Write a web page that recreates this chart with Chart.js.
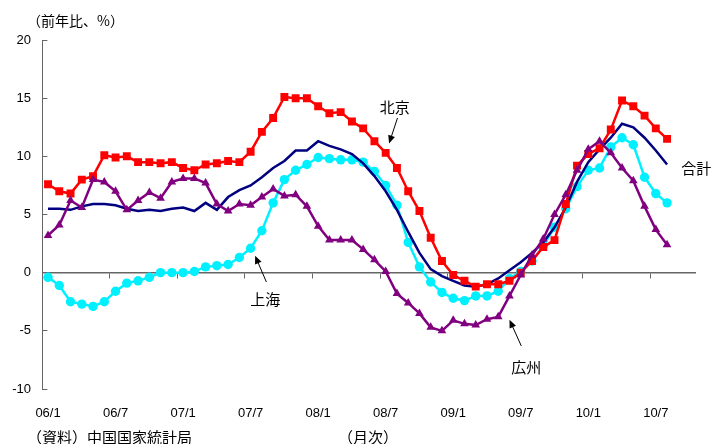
<!DOCTYPE html>
<html>
<head>
<meta charset="utf-8">
<script src="https://cdn.jsdelivr.net/npm/chart.js@4.4.1/dist/chart.umd.min.js"></script>
<style>
  html, body { margin: 0; padding: 0; background: #ffffff; }
  #wrap { width: 712px; height: 444px; position: relative; }
</style>
</head>
<body>
<div id="wrap"><canvas id="c" width="712" height="444"></canvas></div>
<script>
// Monthly categories, 2006/1 - 2010/10
const months = [
  "06/1","06/2","06/3","06/4","06/5","06/6","06/7","06/8","06/9","06/10","06/11","06/12",
  "07/1","07/2","07/3","07/4","07/5","07/6","07/7","07/8","07/9","07/10","07/11","07/12",
  "08/1","08/2","08/3","08/4","08/5","08/6","08/7","08/8","08/9","08/10","08/11","08/12",
  "09/1","09/2","09/3","09/4","09/5","09/6","09/7","09/8","09/9","09/10","09/11","09/12",
  "10/1","10/2","10/3","10/4","10/5","10/6","10/7","10/8","10/9","10/10"
];
// Labelled months on the horizontal axis
const tickMonths = ["06/1","06/7","07/1","07/7","08/1","08/7","09/1","09/7","10/1","10/7"];
const yTicks = [-10, -5, 0, 5, 10, 15, 20];

// Year-on-year change (%)
const beijing = [7.6, 7.0, 6.8, 8.0, 8.3, 10.1, 9.9, 10.0, 9.5, 9.5, 9.4, 9.5,
  9.0, 8.8, 9.3, 9.4, 9.6, 9.5, 10.4, 12.1, 13.3, 15.1, 15.0, 15.0,
  14.3, 13.7, 13.8, 13.0, 12.4, 11.3, 10.3, 9.0, 7.0, 5.3, 3.0, 1.0,
  -0.2, -0.7, -1.2, -1.0, -1.0, -0.7, 0.0, 1.0, 2.2, 2.8, 5.9, 9.2,
  10.2, 10.7, 12.3, 14.8, 14.3, 13.5, 12.4, 11.5];
const shanghai = [-0.4, -1.1, -2.5, -2.7, -2.9, -2.5, -1.6, -0.9, -0.7, -0.4, 0.0, 0.0,
  0.0, 0.1, 0.5, 0.6, 0.7, 1.3, 2.1, 3.6, 6.0, 8.0, 8.8, 9.3,
  9.9, 9.8, 9.7, 9.7, 9.5, 8.7, 7.5, 5.8, 2.6, 0.5, -0.8, -1.7,
  -2.2, -2.4, -2.0, -2.0, -1.6, -0.5, 0.1, 1.0, 2.3, 3.9, 5.5, 7.4,
  8.8, 9.0, 10.8, 11.6, 11.0, 8.2, 6.8, 6.0];
const guangzhou = [3.2, 4.1, 6.2, 5.6, 8.0, 7.8, 7.0, 5.4, 6.2, 6.9, 6.4, 7.8,
  8.1, 8.1, 7.7, 5.9, 5.3, 5.9, 5.8, 6.5, 7.2, 6.6, 6.7, 5.7,
  4.0, 2.8, 2.8, 2.8, 2.0, 1.1, 0.1, -1.8, -2.6, -3.5, -4.7, -5.0,
  -4.1, -4.4, -4.5, -4.0, -3.8, -2.0, -0.2, 1.5, 2.9, 5.0, 6.7, 8.8,
  10.6, 11.3, 10.3, 9.0, 7.9, 5.7, 3.7, 2.4];
const total = [5.5, 5.5, 5.4, 5.7, 5.9, 5.9, 5.8, 5.5, 5.3, 5.4, 5.3, 5.5,
  5.6, 5.3, 6.0, 5.4, 6.5, 7.1, 7.5, 8.2, 9.0, 9.6, 10.5, 10.5,
  11.3, 10.9, 10.6, 10.2, 9.4, 8.3, 7.0, 5.4, 3.5, 1.7, 0.3, -0.3,
  -0.7, -1.1, -1.2, -1.0, -0.5, 0.2, 0.9, 1.7, 2.6, 3.9, 5.6, 7.8,
  9.5, 10.6, 11.6, 12.8, 12.5, 11.6, 10.5, 9.3];

const AXIS_GRAY = '#666666';
const JP_FONT = '"Noto Sans CJK JP", "Noto Sans", sans-serif';
const NUM_FONT = '"Liberation Sans", Arial, sans-serif';

// Callout labels and pointer arrows, positioned in data space (category index, %)
const callouts = [
  { text: '北京', at: [30.8, 14.2], from: [31.05, 13.3], to: [30.3, 11.1] },
  { text: '上海', at: [19.3, -2.25], from: [19.4, -0.8], to: [18.4, 1.45] },
  { text: '広州', at: [42.5, -8.1], from: [42.05, -6.3], to: [41.0, -4.05] },
  { text: '合計', at: [57.6, 9.0] }
];

function drawArrow(ctx, x1, y1, x2, y2) {
  const ang = Math.atan2(y2 - y1, x2 - x1);
  const head = 8, half = 3.5;
  ctx.beginPath();
  ctx.moveTo(x1, y1);
  ctx.lineTo(x2 - Math.cos(ang) * head * 0.8, y2 - Math.sin(ang) * head * 0.8);
  ctx.stroke();
  ctx.beginPath();
  ctx.moveTo(x2, y2);
  ctx.lineTo(x2 - Math.cos(ang) * head - Math.sin(ang) * half, y2 - Math.sin(ang) * head + Math.cos(ang) * half);
  ctx.lineTo(x2 - Math.cos(ang) * head + Math.sin(ang) * half, y2 - Math.sin(ang) * head - Math.cos(ang) * half);
  ctx.closePath();
  ctx.fill();
}

const annotations = {
  id: 'annotations',
  afterDraw(chart) {
    const ctx = chart.ctx;
    const xs = chart.scales.x, ys = chart.scales.y;
    ctx.save();
    ctx.fillStyle = '#000';
    ctx.strokeStyle = '#000';
    ctx.lineWidth = 1;
    ctx.textAlign = 'center';
    ctx.textBaseline = 'middle';
    ctx.font = '15px ' + JP_FONT;
    callouts.forEach(c => {
      ctx.fillText(c.text, xs.getPixelForValue(c.at[0]), ys.getPixelForValue(c.at[1]));
      if (c.from) {
        drawArrow(ctx,
          xs.getPixelForValue(c.from[0]), ys.getPixelForValue(c.from[1]),
          xs.getPixelForValue(c.to[0]), ys.getPixelForValue(c.to[1]));
      }
    });
    // unit, source and period captions
    ctx.font = '14px ' + JP_FONT;
    ctx.textAlign = 'left';
    ctx.fillText('（前年比、%）', 27, 21);
    ctx.font = '15px ' + JP_FONT;
    ctx.fillText('（資料）中国国家統計局', 27, 437);
    ctx.fillText('（月次）', 338, 437);
    ctx.restore();
  }
};

const lineSet = (label, data, color, style, radius, order) => ({
  label, data,
  borderColor: color, backgroundColor: color,
  borderWidth: 2.5,
  pointStyle: style, pointRadius: radius, pointHoverRadius: radius,
  pointBorderWidth: 0,
  tension: 0, order
});

new Chart(document.getElementById('c'), {
  type: 'line',
  data: {
    labels: months,
    datasets: [
      lineSet('広州', guangzhou, '#800080', 'triangle', 5, 1),
      lineSet('北京', beijing, '#FF0000', 'rect', 5.6, 2),
      lineSet('合計', total, '#000080', false, 0, 3),
      lineSet('上海', shanghai, '#00F0FF', 'circle', 4.7, 4)
    ]
  },
  options: {
    responsive: false,
    devicePixelRatio: 1,
    animation: false,
    events: [],
    layout: { padding: { left: 0, right: 16.8, top: 40, bottom: 0 } },
    plugins: { legend: { display: false }, tooltip: { enabled: false } },
    scales: {
      x: {
        type: 'category',
        offset: true,
        grid: { display: false },
        border: { display: false },
        ticks: {
          autoSkip: false, maxRotation: 0, minRotation: 0,
          padding: 9, color: '#000',
          font: { family: NUM_FONT, size: 13 },
          callback: (v, i) => tickMonths.includes(months[i]) ? months[i] : ''
        },
        afterFit: s => { s.height = 444 - 389; }
      },
      zeroAxis: {
        type: 'category',
        axis: 'x',
        labels: months,
        position: { y: 0 },
        offset: true,
        grid: {
          offset: true, drawOnChartArea: false, drawTicks: true, tickLength: 5,
          lineWidth: 1,
          color: c => (c.index > 0 && c.index < months.length && c.index % 6 === 0) ? AXIS_GRAY : 'rgba(0,0,0,0)'
        },
        border: { display: true, color: AXIS_GRAY, width: 1.5 },
        ticks: { display: false, autoSkip: false }
      },
      y: {
        min: yTicks[0], max: yTicks[yTicks.length - 1],
        afterBuildTicks: s => { s.ticks = yTicks.map(v => ({ value: v })); },
        grid: { drawOnChartArea: false, drawTicks: true, tickLength: -5, color: AXIS_GRAY },
        border: { display: true, color: AXIS_GRAY, width: 1 },
        ticks: { padding: 16.4, color: '#000', font: { family: NUM_FONT, size: 13 } },
        afterFit: s => { s.width = 42.4; }
      }
    }
  },
  plugins: [annotations]
});
</script>
</body>
</html>
